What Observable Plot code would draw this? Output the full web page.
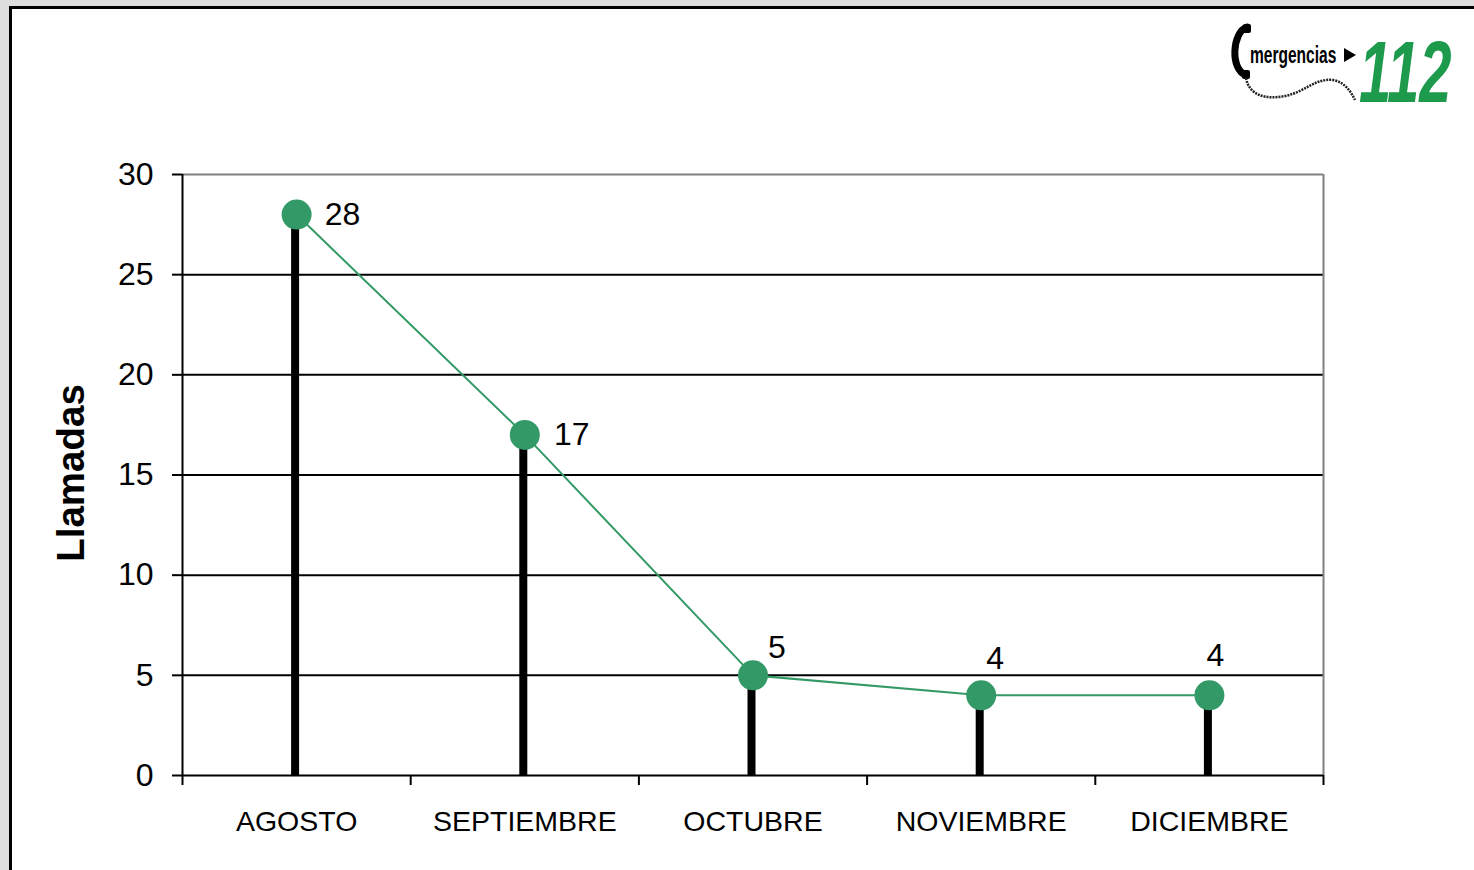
<!DOCTYPE html>
<html><head><meta charset="utf-8">
<script src="https://cdn.jsdelivr.net/npm/d3@7"></script>
<script src="https://cdn.jsdelivr.net/npm/@observablehq/plot@0.6"></script>
<style>
html,body{margin:0;padding:0;background:#dedede;width:1474px;height:870px;overflow:hidden;font-family:"Liberation Sans",Arial,sans-serif}
#panel{position:absolute;left:9px;top:6px;width:1480px;height:900px;background:#fff;border-left:3px solid #000;border-top:3px solid #000;}
#chart{position:absolute;left:0;top:0}
#logo{position:absolute;left:1225px;top:16px;width:249px;height:96px;overflow:visible}
</style></head><body>
<div id="panel"></div>
<div id="chart"></div>
<svg id="logo" width="249" height="96" viewBox="0 -4 249 96">
  <path d="M22,7 C7,12 5,50 21,55" fill="none" stroke="#000" stroke-width="7" stroke-linecap="round"/>
  <rect x="18" y="4" width="8" height="9" rx="2" fill="#000"/>
  <rect x="17" y="50" width="8" height="9" rx="2" fill="#000"/>
  <path d="M21,58 C24,75 40,80 60,76 C80,72 90,58 108,60 C120,62 126,72 130,80" fill="none" stroke="#222" stroke-width="2.5" stroke-dasharray="2 1"/>
  <text x="0" y="0" transform="translate(25,43) scale(0.74,1.1)" font-family="Liberation Sans, Arial, sans-serif" font-weight="bold" font-size="21" fill="#000">mergencias</text>
  <path d="M119,28 L131,35 L119,42 Z" fill="#000"/>
  <text x="0" y="0" transform="translate(134,82) scale(0.66,1)" font-family="Liberation Sans, Arial, sans-serif" font-weight="bold" font-style="italic" font-size="88" fill="#1e9a4c">112</text>
</svg>
<script>
const months = ["AGOSTO", "SEPTIEMBRE", "OCTUBRE", "NOVIEMBRE", "DICIEMBRE"];
const llamadas = [28, 17, 5, 4, 4];
const yTicks = [0, 5, 10, 15, 20, 25, 30];
const yLabel = "Llamadas";
// label offsets (style, px) for each data label
const labelOffsets = [[46, 0], [47, 0], [24, -28], [14, -37], [6, -40]];

const data = months.map((m, i) => ({month: m, pos: i + 0.5, value: llamadas[i]}));
const green = "#339966";
const font = "Liberation Sans, Arial, sans-serif";

const labelMarks = data.map((d, i) => Plot.text([d], {
  x: "pos", y: "value", text: d => String(d.value),
  dx: labelOffsets[i][0], dy: labelOffsets[i][1], fontSize: 32, fill: "#000"
}));

const chart = Plot.plot({
  width: 1474, height: 870,
  marginLeft: 182, marginRight: 151, marginTop: 174, marginBottom: 95,
  style: {background: "transparent", fontFamily: font, overflow: "visible", color: "#000"},
  x: {domain: [0, months.length], axis: null},
  y: {domain: [0, 30], axis: null},
  marks: [
    Plot.ruleY(yTicks.filter(t => t > 0 && t < 30), {stroke: "#000", strokeWidth: 2}),
    Plot.ruleY([30], {stroke: "#808080", strokeWidth: 2}),
    Plot.ruleX([months.length], {y1: 0, y2: 30, stroke: "#808080", strokeWidth: 2}),
    Plot.axisY({ticks: yTicks, tickSize: 10, tickPadding: 19, fontSize: 32, strokeWidth: 2, label: null, tickFormat: d => String(d)}),
    Plot.axisX({ticks: d3.range(0, months.length + 1), tickSize: 10, tickFormat: () => "", strokeWidth: 2, label: null}),
    Plot.ruleX([0], {y1: 0, y2: 30, stroke: "#000", strokeWidth: 2}),
    Plot.ruleY([0], {stroke: "#000", strokeWidth: 2}),
    Plot.text(data, {x: "pos", y: 0, text: "month", dy: 35, lineAnchor: "top", fontSize: 28.5, fill: "#000"}),
    Plot.ruleX(data, {x: "pos", y1: 0, y2: "value", stroke: "#000", strokeWidth: 8, dx: -1.5}),
    Plot.line(data, {x: "pos", y: "value", stroke: green, strokeWidth: 2}),
    Plot.dot(data, {x: "pos", y: "value", r: 15, fill: green, stroke: "none"}),
    ...labelMarks,
    Plot.text([yLabel], {frameAnchor: "left", textAnchor: "middle", dx: -111, dy: -2, rotate: -90, fontSize: 38.5, fontWeight: "bold", fill: "#000"})
  ]
});
document.getElementById("chart").appendChild(chart);
</script>
</body></html>
